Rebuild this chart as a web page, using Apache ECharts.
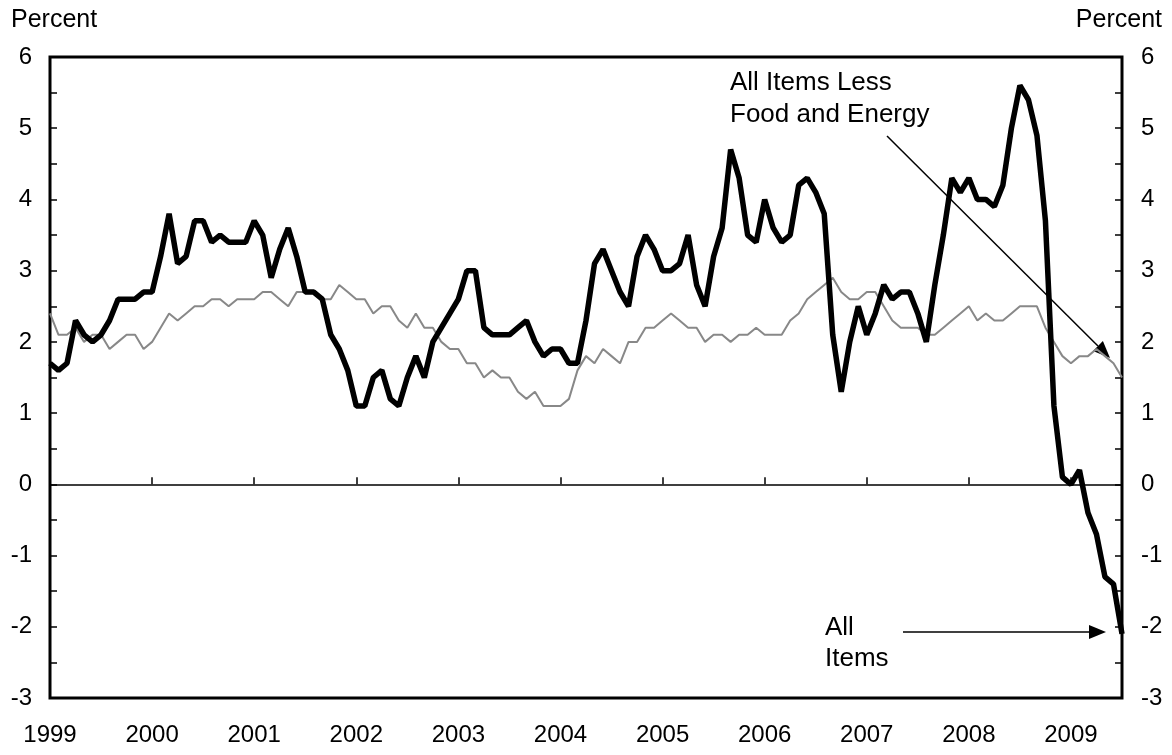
<!DOCTYPE html>
<html>
  <head>
    <meta charset="UTF-8">
    <title>CPI</title>
    <script src="https://cdn.jsdelivr.net/npm/echarts@6/dist/echarts.min.js"></script>
    <style>
      html, body { margin: 0; padding: 0; background: #fff; }
      #chart { width: 1172px; height: 755px; }
    </style>
  </head>
  <body>
    <div id="chart"></div>
    <script type="text/javascript">
     // 12-month percent change, monthly, Jan 1999 - Jul 2009
     var startYear = 1999;
     var allItems = [
       1.7, 1.6, 1.7, 2.3, 2.1, 2.0, 2.1, 2.3, 2.6, 2.6, 2.6, 2.7,
       2.7, 3.2, 3.8, 3.1, 3.2, 3.7, 3.7, 3.4, 3.5, 3.4, 3.4, 3.4,
       3.7, 3.5, 2.9, 3.3, 3.6, 3.2, 2.7, 2.7, 2.6, 2.1, 1.9, 1.6,
       1.1, 1.1, 1.5, 1.6, 1.2, 1.1, 1.5, 1.8, 1.5, 2.0, 2.2, 2.4,
       2.6, 3.0, 3.0, 2.2, 2.1, 2.1, 2.1, 2.2, 2.3, 2.0, 1.8, 1.9,
       1.9, 1.7, 1.7, 2.3, 3.1, 3.3, 3.0, 2.7, 2.5, 3.2, 3.5, 3.3,
       3.0, 3.0, 3.1, 3.5, 2.8, 2.5, 3.2, 3.6, 4.7, 4.3, 3.5, 3.4,
       4.0, 3.6, 3.4, 3.5, 4.2, 4.3, 4.1, 3.8, 2.1, 1.3, 2.0, 2.5,
       2.1, 2.4, 2.8, 2.6, 2.7, 2.7, 2.4, 2.0, 2.8, 3.5, 4.3, 4.1,
       4.3, 4.0, 4.0, 3.9, 4.2, 5.0, 5.6, 5.4, 4.9, 3.7, 1.1, 0.1,
       0.0, 0.2, -0.4, -0.7, -1.3, -1.4, -2.1
     ];
     var lessFoodEnergy = [
       2.4, 2.1, 2.1, 2.2, 2.0, 2.1, 2.1, 1.9, 2.0, 2.1, 2.1, 1.9,
       2.0, 2.2, 2.4, 2.3, 2.4, 2.5, 2.5, 2.6, 2.6, 2.5, 2.6, 2.6,
       2.6, 2.7, 2.7, 2.6, 2.5, 2.7, 2.7, 2.7, 2.6, 2.6, 2.8, 2.7,
       2.6, 2.6, 2.4, 2.5, 2.5, 2.3, 2.2, 2.4, 2.2, 2.2, 2.0, 1.9,
       1.9, 1.7, 1.7, 1.5, 1.6, 1.5, 1.5, 1.3, 1.2, 1.3, 1.1, 1.1,
       1.1, 1.2, 1.6, 1.8, 1.7, 1.9, 1.8, 1.7, 2.0, 2.0, 2.2, 2.2,
       2.3, 2.4, 2.3, 2.2, 2.2, 2.0, 2.1, 2.1, 2.0, 2.1, 2.1, 2.2,
       2.1, 2.1, 2.1, 2.3, 2.4, 2.6, 2.7, 2.8, 2.9, 2.7, 2.6, 2.6,
       2.7, 2.7, 2.5, 2.3, 2.2, 2.2, 2.2, 2.1, 2.1, 2.2, 2.3, 2.4,
       2.5, 2.3, 2.4, 2.3, 2.3, 2.4, 2.5, 2.5, 2.5, 2.2, 2.0, 1.8,
       1.7, 1.8, 1.8, 1.9, 1.8, 1.7, 1.5
     ];
     var yMin = -3, yMax = 6;

     var months = allItems.map(function (v, i) {
       return String(startYear + Math.floor(i / 12)) + '-' + (i % 12 + 1);
     });

     var font = 'Liberation Sans, Arial, sans-serif';
     var isJan = function (idx) { return idx % 12 === 0; };
     var intOnly = function (v) { return Math.abs(v - Math.round(v)) < 1e-6 ? String(Math.round(v)) : ''; };

     // arrow annotation: line + filled head
     function arrow(x1, y1, x2, y2) {
       var dx = x2 - x1, dy = y2 - y1, len = Math.sqrt(dx * dx + dy * dy);
       var ux = dx / len, uy = dy / len, hl = 17, hw = 7;
       var bx = x2 - ux * hl, by = y2 - uy * hl;
       return [
         { type: 'line', shape: { x1: x1, y1: y1, x2: bx, y2: by }, style: { stroke: '#000', lineWidth: 1.5 } },
         { type: 'polygon', shape: { points: [[x2, y2], [bx - uy * hw, by + ux * hw], [bx + uy * hw, by - ux * hw]] }, style: { fill: '#000' } }
       ];
     }

     function txt(x, y, s, size, align) {
       return { type: 'text', x: x, y: y, style: { text: s, font: size + 'px ' + font, fill: '#000', textAlign: align || 'left', textVerticalAlign: 'middle' } };
     }

     var chart = echarts.init(document.getElementById('chart'));
     chart.setOption({
       animation: false,
       backgroundColor: '#fff',
       grid: { left: 50, right: 50, top: 57, bottom: 57, show: true, borderColor: '#000', borderWidth: 3 },
       xAxis: [
         {
           type: 'category', data: months, boundaryGap: false,
           axisLine: { show: false }, axisTick: { show: false }, splitLine: { show: false },
           axisLabel: { interval: function (idx) { return isJan(idx); }, formatter: function (v) { return v.slice(0, 4); },
                        color: '#000', fontFamily: font, fontSize: 24, margin: 25 }
         },
         {
           type: 'category', data: months, boundaryGap: false, position: 'bottom',
           axisLine: { onZero: true, lineStyle: { color: '#000', width: 1.5 } },
           axisTick: { show: true, inside: true, length: 7, interval: function (idx) { return isJan(idx) && idx > 0; }, lineStyle: { color: '#000', width: 1.5 } },
           axisLabel: { show: false }, splitLine: { show: false }
         }
       ],
       yAxis: [
         {
           type: 'value', min: yMin, max: yMax, interval: 0.5, position: 'left',
           axisLine: { show: false }, splitLine: { show: false },
           axisTick: { show: true, inside: true, length: 7, lineStyle: { color: '#000', width: 1.5 } },
           axisLabel: { formatter: intOnly, color: '#000', fontFamily: font, fontSize: 24, margin: 18 }
         },
         {
           type: 'value', min: yMin, max: yMax, interval: 0.5, position: 'right',
           axisLine: { show: false }, splitLine: { show: false },
           axisTick: { show: true, inside: true, length: 7, lineStyle: { color: '#000', width: 1.5 } },
           axisLabel: { formatter: intOnly, color: '#000', fontFamily: font, fontSize: 24, margin: 19 }
         }
       ],
       series: [
         {
           name: 'All Items Less Food and Energy', type: 'line', data: lessFoodEnergy,
           xAxisIndex: 0, yAxisIndex: 0, symbol: 'none', lineStyle: { color: '#888888', width: 2 }, z: 2
         },
         {
           name: 'All Items', type: 'line', data: allItems,
           xAxisIndex: 0, yAxisIndex: 0, symbol: 'none', lineStyle: { color: '#000', width: 5.5 }, z: 3
         }
       ],
       graphic: [
         txt(11, 20, 'Percent', 25),
         txt(1162, 20, 'Percent', 25, 'right'),
         txt(730, 83, 'All Items Less', 26),
         txt(730, 115, 'Food and Energy', 26),
         txt(825, 628, 'All', 26),
         txt(825, 659, 'Items', 26)
       ].concat(arrow(887, 136, 1110, 358), arrow(903, 632, 1106, 632))
     });
    </script>
  </body>
</html>
